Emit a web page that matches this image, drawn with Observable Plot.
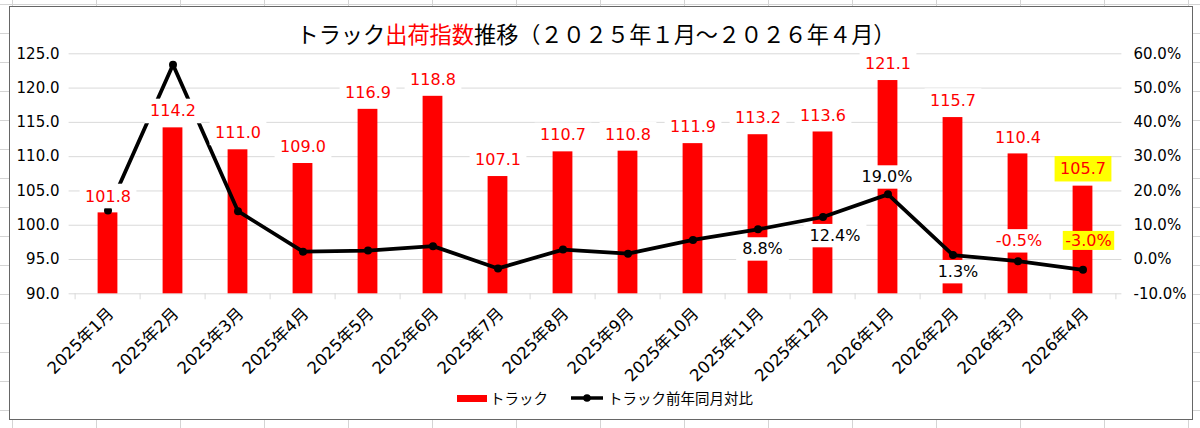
<!DOCTYPE html>
<html>
<head>
<meta charset="utf-8">
<script src="https://cdn.jsdelivr.net/npm/d3@7"></script>
<script src="https://cdn.jsdelivr.net/npm/@observablehq/plot@0.6"></script>
<style>
  html, body { margin: 0; padding: 0; width: 1200px; height: 428px; overflow: hidden; }
  body {
    position: relative;
    background-color: #fff;
    background-image:
      linear-gradient(to right, #d4d4d4 1px, transparent 1px),
      linear-gradient(to bottom, #d4d4d4 1px, transparent 1px);
    background-size: 84px 29px;
    background-position: 12px 4px;
    font-family: "DejaVu Sans", "Noto Sans CJK JP", sans-serif;
  }
  #frame {
    position: absolute; left: 9px; top: 6px; width: 1184px; height: 414px;
    background: #fff; border: 1.5px solid #666; box-sizing: border-box;
  }
  #title {
    position: absolute; left: 0; top: 22px; width: 1192px; text-align: center;
    font-family: "Noto Sans CJK JP", sans-serif; font-size: 22.2px; line-height: 1; color: #000;
  }
  #title .red { color: #ff0000; }
  #chart { position: absolute; left: 8px; top: 45px; }
  #legend {
    position: absolute; left: 457px; top: 388px; display: flex; align-items: center;
    font-family: "Noto Sans CJK JP", sans-serif; font-size: 14.5px; line-height: 20px; color: #000;
  }
</style>
</head>
<body>
<div id="frame"></div>
<div id="title">トラック<span class="red">出荷指数</span>推移（２０２５年１月～２０２６年４月）</div>
<div id="chart"></div>
<div id="legend">
  <span style="display:inline-block;width:30px;height:7px;background:#ff0000"></span>
  <span style="margin-left:3px">トラック</span>
  <svg width="34" height="10" style="margin-left:22px">
    <line x1="1" y1="5" x2="33" y2="5" stroke="#000" stroke-width="3.5"></line>
    <circle cx="17" cy="5" r="3.8" fill="#000"></circle>
  </svg>
  <span style="margin-left:4px">トラック前年同月対比</span>
</div>
<script>
// ---- data ----
const months = ["2025年1月","2025年2月","2025年3月","2025年4月","2025年5月","2025年6月","2025年7月","2025年8月","2025年9月","2025年10月","2025年11月","2025年12月","2026年1月","2026年2月","2026年3月","2026年4月"];
const truckIndex = [101.8,114.2,111.0,109.0,116.9,118.8,107.1,110.7,110.8,111.9,113.2,113.6,121.1,115.7,110.4,105.7];
const truckYoY = [14.3,56.8,14.1,2.3,2.6,3.9,-2.6,2.9,1.7,5.7,8.8,12.4,19.0,1.3,-0.5,-3.0];
const leftTicks = [90,95,100,105,110,115,120,125];
const rightTicks = [-10,0,10,20,30,40,50,60];

// ---- layout ----
const W = 1184, H = 335, ML = 60.6, MR = 70.6, MT = 8.3, MB = 86.7;
const step = (W - ML - MR) / months.length;
const pxPerUnit = (H - MT - MB) / (125 - 90);

// map right-axis percent onto left-axis scale
const pctToY = p => 90 + (p + 10) / 2;
const yToPct = v => (v - 90) * 2 - 10;

const table = months.map((m, i) => ({month: m, index: truckIndex[i], yoy: truckYoY[i]}));
const latest = months[months.length - 1];

// line data label placement (Excel-style manual label positions)
const lineLabelPlacement = {
  "2025年11月": [4.5, 20],
  "2025年12月": [12, 19],
  "2026年1月": [-1, -17],
  "2026年2月": [5, 17],
  "2026年3月": [1, -20],
  "2026年4月": [5.5, -29]
};

const RED = "#ff0000";
const lineLabelMarks = Object.entries(lineLabelPlacement).map(([m, [dx, dy]]) =>
  Plot.text(table.filter(d => d.month === m), {
    x: "month", y: d => pctToY(d.yoy), text: d => d.yoy.toFixed(1) + "%",
    fill: d => d.yoy < 0 ? RED : "#000", fontSize: 16, dx, dy,
    ariaDescription: m === latest ? "lbl-yellow-tight" : "lbl-white-line"
  })
);

const chart = Plot.plot({
  width: W, height: H,
  marginLeft: ML, marginRight: MR, marginTop: MT, marginBottom: MB,
  style: {fontFamily: '"DejaVu Sans", "Noto Sans CJK JP", sans-serif', fontSize: "15px", color: "#000", background: "transparent", overflow: "visible"},
  x: {domain: months, padding: 0, label: null},
  y: {domain: [90, 125], label: null},
  marks: [
    Plot.ruleY(leftTicks, {stroke: "#d9d9d9", strokeWidth: 1}),
    Plot.ruleX(months, {x: d => d, dx: -step / 2, y1: 90, y2: 90 - 6 / pxPerUnit, stroke: "#d9d9d9"}),
    Plot.ruleX([latest], {x: d => d, dx: step / 2, y1: 90, y2: 90 - 6 / pxPerUnit, stroke: "#d9d9d9"}),
    Plot.barY(table, {x: "month", y1: 90, y2: "index", fill: RED, insetLeft: (step - 20.6) / 2, insetRight: (step - 20.6) / 2}),
    Plot.line(table, {x: "month", y: d => pctToY(d.yoy), stroke: "#000", strokeWidth: 3.8, strokeLinejoin: "round"}),
    Plot.dot(table, {x: "month", y: d => pctToY(d.yoy), r: 4, fill: "#000"}),
    Plot.axisY({anchor: "left", ticks: leftTicks, tickFormat: d => d.toFixed(1), tickSize: 0, tickPadding: 9.6, fontSize: 15, label: null}),
    Plot.axisY({anchor: "right", ticks: rightTicks.map(pctToY), tickFormat: v => yToPct(v).toFixed(1) + "%", tickSize: 0, tickPadding: 11.6, fontSize: 15, textAnchor: "start", label: null}),
    Plot.axisX({tickRotate: -45, tickSize: 0, tickPadding: 17, dx: 3, fontSize: 16.5, label: null}),
    Plot.text(table.filter(d => d.month !== latest), {x: "month", y: "index", text: d => d.index.toFixed(1), fill: RED, fontSize: 16, dy: -16.5, ariaDescription: "lbl-white-bar"}),
    Plot.text(table.filter(d => d.month === latest), {x: "month", y: "index", text: d => d.index.toFixed(1), fill: RED, fontSize: 16, dy: -17, ariaDescription: "lbl-yellow-bar"}),
    ...lineLabelMarks
  ]
});

document.getElementById("chart").appendChild(chart);

// label background boxes
const boxStyles = {
  "lbl-white-bar": ["#ffffff", 5.5, 2.8],
  "lbl-yellow-bar": ["#ffff00", 5.5, 3.2],
  "lbl-white-line": ["#ffffff", 6, 2.2],
  "lbl-yellow-tight": ["#ffff00", 2.5, 0]
};
for (const [name, [fill, px, py]] of Object.entries(boxStyles)) {
  chart.querySelectorAll(`g[aria-description="${name}"] text`).forEach(t => {
    const b = t.getBBox();
    const r = document.createElementNS("http://www.w3.org/2000/svg", "rect");
    r.setAttribute("x", b.x - px);
    r.setAttribute("y", b.y - py);
    r.setAttribute("width", b.width + 2 * px);
    r.setAttribute("height", b.height + 2 * py);
    r.setAttribute("fill", fill);
    const tr = t.getAttribute("transform");
    if (tr) r.setAttribute("transform", tr);
    t.parentNode.insertBefore(r, t);
  });
}
</script>
</body>
</html>
